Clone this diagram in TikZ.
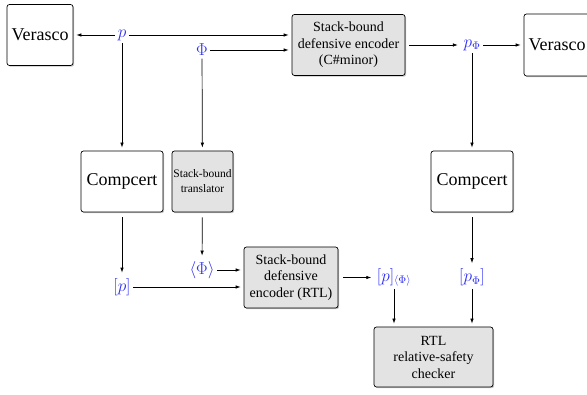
\documentclass[tikz,border=0pt]{standalone}
\usepackage[no-math]{fontspec}
\setmainfont{Liberation Serif}
\usetikzlibrary{arrows.meta,shadows}
\definecolor{varblue}{RGB}{45,45,245}
\tikzset{
  box/.style={draw, line width=0.7pt, rounded corners=2.5pt, fill=white, align=center, inner sep=0pt,
    drop shadow={opacity=0.45, shadow xshift=1.2pt, shadow yshift=-1.2pt}},
  greybox/.style={box, fill=gray!22},
  var/.style={text=varblue, inner sep=2.5pt, font=\fontsize{16}{18}\selectfont},
  arr/.style={-{Latex[length=5pt,width=3.5pt]}, line width=0.7pt, shorten >=3pt},
  bigtext/.style={font=\fontsize{18}{20}\selectfont},
  midtext/.style={font=\fontsize{14}{16.5}\selectfont},
  smalltext/.style={font=\fontsize{11.5}{15}\selectfont}
}
\begin{document}
\begin{tikzpicture}[x=1pt,y=1pt]
                \useasboundingbox (0,0) rectangle (587,395);
                % top row
                \node [box, bigtext, minimum width=66pt, minimum height=61pt] (verL) at (40,360) {Verasco};
                \node [var] (p) at (122,360) {$p$};
                \node [var] (phi) at (202,345) {$\Phi$};
                \node [greybox, midtext, minimum width=113pt, minimum height=61pt] (encC) at (348.5,350) {Stack-bound\\defensive encoder\\(C\#minor)};
                \node [var] (pphi) at (472,350) {$p_{\Phi}$};
                \node [box, bigtext, minimum width=66pt, minimum height=62pt] (verR) at (557,350) {Verasco};
                % middle row
                \node [box, bigtext, minimum width=82pt, minimum height=61pt] (compL) at (122,213.5) {Compcert};
                \node [greybox, smalltext, minimum width=61pt, minimum height=61pt] (trans) at (202.5,213.5) {Stack-bound\\translator};
                \node [box, bigtext, minimum width=82pt, minimum height=61pt] (compR) at (472,213.5) {Compcert};
                % bottom rows
                \node [var] (brp) at (122,108) {$[p]$};
                \node [var] (aphi) at (202,125) {$\langle\Phi\rangle$};
                \node [greybox, midtext, minimum width=94pt, minimum height=61pt] (encR) at (291,117.5) {Stack-bound\\defensive\\encoder (RTL)};
                \node [var] (brpa) at (394,117.5) {$[p]_{\langle\Phi\rangle}$};
                \node [var] (brpphi) at (472,117.5) {$[p_{\Phi}]$};
                \node [greybox, midtext, minimum width=119pt, minimum height=60pt] (check) at (433.5,38) {RTL\\relative-safety\\checker};
                % arrows
                \draw [arr] (p) -- (verL);
                \draw [arr] (p) -- (p -| encC.west);
                \draw [arr] (phi) -- (phi -| encC.west);
                \draw [arr, shorten <=4pt] (encC) -- (pphi);
                \draw [arr] (pphi) -- (verR);
                \draw [arr] (p) -- (compL);
                \draw [arr] (phi) -- (trans);
                \draw [arr] (pphi) -- (compR);
                \draw [arr, shorten <=5pt] (compL) -- (brp);
                \draw [arr, shorten <=5pt] (trans) -- (aphi);
                \draw [arr, shorten <=5pt] (compR) -- (brpphi);
                \draw [arr] (aphi) -- (aphi -| encR.west);
                \draw [arr] (brp) -- (brp -| encR.west);
                \draw [arr, shorten <=5pt] (encR) -- (brpa);
                \draw [arr] (brpa) -- (brpa |- check.north);
                \draw [arr] (brpphi) -- (brpphi |- check.north);
\end{tikzpicture}
\end{document}
